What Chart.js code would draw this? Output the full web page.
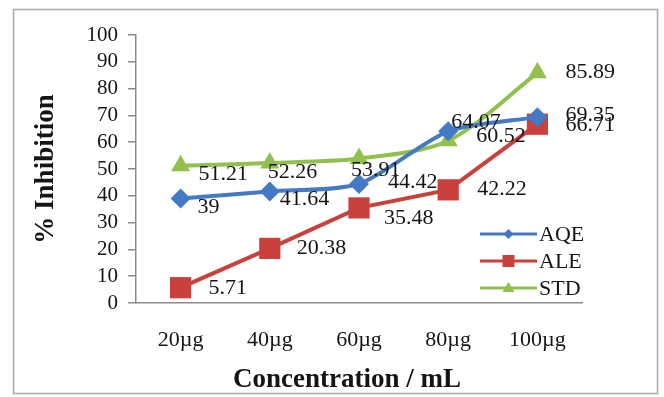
<!DOCTYPE html>
<html>
<head>
<meta charset="utf-8">
<script src="https://cdn.jsdelivr.net/npm/chart.js@4.4.1/dist/chart.umd.min.js"></script>
<style>
  html,body{margin:0;padding:0;background:#fff;}
  #wrap{width:664px;height:397px;position:relative;}
</style>
</head>
<body>
<div id="wrap"><canvas id="grafico" width="664" height="397"></canvas></div>
<script>
// dados
const categorias = ['20µg', '40µg', '60µg', '80µg', '100µg'];
const serieAQE = [39, 41.64, 44.42, 64.07, 69.35];
const serieALE = [5.71, 20.38, 35.48, 42.22, 66.71];
const serieSTD = [51.21, 52.26, 53.91, 60.52, 85.89];
const ticksY = [0, 10, 20, 30, 40, 50, 60, 70, 80, 90, 100];

// deslocamento dos rótulos (dx, dy) em relação ao ponto
const ajusteRotulos = {
  AQE: [[17, 9], [10, 8], [29, -2], [3, -9], [28, -2]],
  ALE: [[28, 1], [27, 0], [25, 10], [29, -1], [28, 1]],
  STD: [[18, 8], [-2, 9], [-8, 12], [28, -5], [28, -1]]
};

const fonteSerif = '"Liberation Serif", "Times New Roman", serif';
const corTexto = '#151515';
const corEixo = '#8a8a8a';

const cores = {AQE: '#4479c4', ALE: '#c9403d', STD: '#92c04e'};

// moldura cinza em volta do gráfico
const molduraPlugin = {
  id: 'moldura',
  beforeDraw(chart) {
    const ctx = chart.ctx;
    ctx.save();
    ctx.fillStyle = '#fff';
    ctx.fillRect(0, 0, chart.width, chart.height);
    ctx.strokeStyle = '#a9a9a9';
    ctx.lineWidth = 1.5;
    ctx.strokeRect(13.5, 9.5, 644, 384);
    ctx.restore();
  }
};

// rótulos de valor ao lado de cada ponto
const rotulosPlugin = {
  id: 'rotulos',
  afterDatasetsDraw(chart) {
    const ctx = chart.ctx;
    ctx.save();
    ctx.font = '22px ' + fonteSerif;
    ctx.fillStyle = corTexto;
    ctx.textAlign = 'left';
    ctx.textBaseline = 'middle';
    chart.data.datasets.forEach((ds, i) => {
      const meta = chart.getDatasetMeta(i);
      const ajuste = ajusteRotulos[ds.label];
      meta.data.forEach((pt, j) => {
        const [dx, dy] = ajuste[j];
        ctx.fillText(String(ds.data[j]), pt.x + dx, pt.y + dy);
      });
    });
    ctx.restore();
  }
};

// títulos dos eixos e legenda dentro da área
const extrasPlugin = {
  id: 'extras',
  afterDraw(chart) {
    const ctx = chart.ctx;
    const area = chart.chartArea;
    ctx.save();
    ctx.fillStyle = corTexto;
    ctx.font = 'bold 27px ' + fonteSerif;
    ctx.textAlign = 'center';
    ctx.textBaseline = 'middle';
    ctx.fillText('Concentration / mL', 347, 380);
    ctx.translate(46, (area.top + area.bottom) / 2);
    ctx.rotate(-Math.PI / 2);
    ctx.fillText('% Inhibition', 0, 0);
    ctx.restore();

    // legenda
    ctx.save();
    ctx.font = '22px ' + fonteSerif;
    ctx.textAlign = 'left';
    ctx.textBaseline = 'middle';
    const x0 = 480, x1 = 537, xm = (x0 + x1) / 2;
    chart.data.datasets.forEach((ds, i) => {
      const y = 234 + i * 27;
      ctx.strokeStyle = ds.borderColor;
      ctx.lineWidth = 3;
      ctx.beginPath();
      ctx.moveTo(x0, y);
      ctx.lineTo(x1, y);
      ctx.stroke();
      ctx.fillStyle = ds.backgroundColor;
      ctx.beginPath();
      if (ds.label === 'ALE') {
        ctx.rect(xm - 6, y - 6, 12, 12);
      } else if (ds.label === 'AQE') {
        ctx.moveTo(xm, y - 5); ctx.lineTo(xm + 5, y);
        ctx.lineTo(xm, y + 5); ctx.lineTo(xm - 5, y);
        ctx.closePath();
      } else {
        ctx.moveTo(xm, y - 6); ctx.lineTo(xm + 6, y + 4);
        ctx.lineTo(xm - 6, y + 4);
        ctx.closePath();
      }
      ctx.fill();
      ctx.fillStyle = corTexto;
      ctx.fillText(ds.label, x1 + 2, y + 1);
    });
    ctx.restore();
  }
};

function serie(label, dados, estilo, raio, tensao) {
  return {
    label: label,
    data: dados,
    borderColor: cores[label],
    backgroundColor: cores[label],
    borderWidth: 4,
    pointStyle: estilo,
    pointRadius: raio,
    pointHoverRadius: raio,
    pointBorderWidth: 0,
    tension: tensao,
    fill: false
  };
}

new Chart(document.getElementById('grafico').getContext('2d'), {
  type: 'line',
  data: {
    labels: categorias,
    datasets: [
      serie('AQE', serieAQE, 'rectRot', 10, 0.25),
      serie('ALE', serieALE, 'rect', 15, 0),
      serie('STD', serieSTD, 'triangle', 11, 0.3)
    ]
  },
  plugins: [molduraPlugin, rotulosPlugin, extrasPlugin],
  options: {
    responsive: false,
    animation: false,
    devicePixelRatio: 1,
    layout: {padding: {top: 35, right: 82, left: 0, bottom: 0}},
    plugins: {legend: {display: false}, tooltip: {enabled: false}},
    scales: {
      x: {
        type: 'category',
        offset: true,
        grid: {display: false, drawTicks: false},
        border: {display: true, color: corEixo, width: 1.5},
        ticks: {color: corTexto, font: {family: fonteSerif, size: 22}, padding: 24, maxRotation: 0},
        afterFit(scale) { scale.height = 94; }
      },
      y: {
        min: 0,
        max: 100,
        afterBuildTicks(scale) { scale.ticks = ticksY.map(v => ({value: v})); },
        grid: {display: true, drawOnChartArea: false, drawTicks: true, tickLength: 8, color: corEixo, lineWidth: 1.5},
        border: {display: true, color: corEixo, width: 1.5},
        ticks: {color: corTexto, font: {family: fonteSerif, size: 21}, padding: 10, autoSkip: false},
        afterFit(scale) { scale.width = 136; }
      }
    }
  }
});
</script>
</body>
</html>
